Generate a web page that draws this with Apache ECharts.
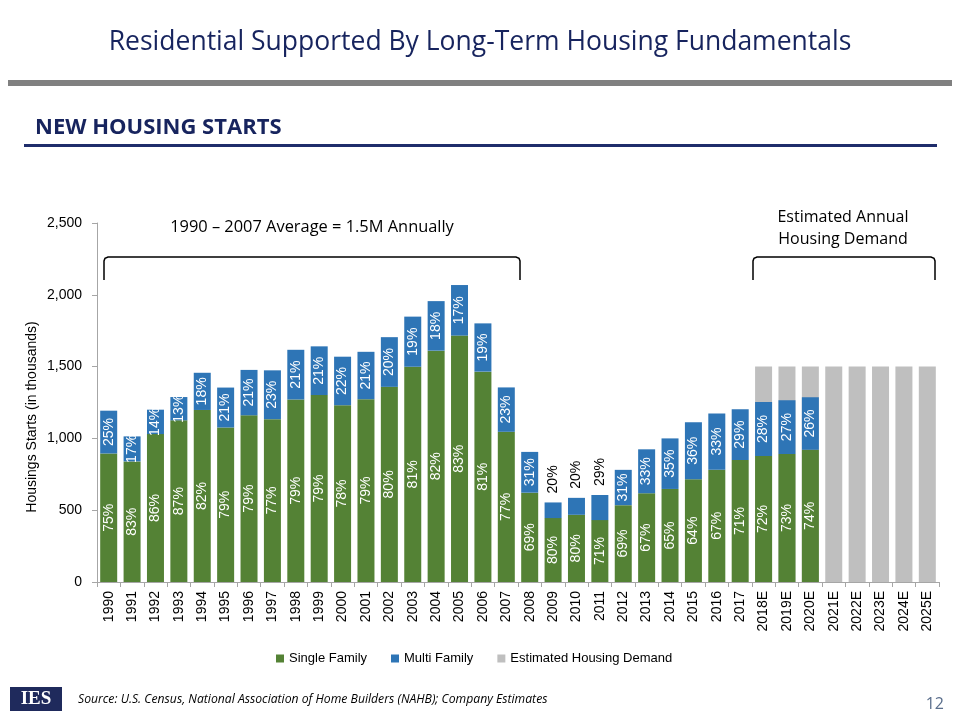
<!DOCTYPE html>
<html>
<head>
<meta charset="utf-8">
<script src="https://cdn.jsdelivr.net/npm/echarts@6/dist/echarts.min.js"></script>
<style>
html,body{margin:0;padding:0;background:#fff;}
#chart{width:960px;height:720px;}
</style>
</head>
<body>
<div id="chart"></div>
<script>
// ---- data ----
const years = ['1990','1991','1992','1993','1994','1995','1996','1997','1998','1999',
  '2000','2001','2002','2003','2004','2005','2006','2007','2008','2009','2010','2011',
  '2012','2013','2014','2015','2016','2017','2018E','2019E','2020E','2021E','2022E',
  '2023E','2024E','2025E'];
const singleFamily = [895,840,1030,1126,1198,1076,1161,1134,1271,1302,1231,1273,1359,1499,
  1611,1716,1465,1046,622,445,468,431,535,618,648,715,782,849,877,891,921];
const multiFamily = [298,174,170,162,259,278,316,340,346,339,338,330,346,349,345,352,336,
  309,284,109,118,175,246,306,352,397,392,354,376,375,365];
const estimatedDemand = [null,null,null,null,null,null,null,null,null,null,null,null,null,
  null,null,null,null,null,null,null,null,null,null,null,null,null,null,null,
  1500,1500,1500,1500,1500,1500,1500,1500];
const singlePct = ['75%','83%','86%','87%','82%','79%','79%','77%','79%','79%','78%','79%',
  '80%','81%','82%','83%','81%','77%','69%','80%','80%','71%','69%','67%','65%','64%','67%',
  '71%','72%','73%','74%'];
const multiPct = ['25%','17%','14%','13%','18%','21%','21%','23%','21%','21%','22%','21%',
  '20%','19%','18%','17%','19%','23%','31%','20%','20%','29%','31%','33%','35%','36%','33%',
  '29%','28%','27%','26%'];
const outsideLabelYears = ['2009','2010','2011'];
const yTicks = [0,500,1000,1500,2000,2500];

const GREEN = '#548235', BLUE = '#2E75B6', GRAY = '#BFBFBF';
const AX_FONT = 'Liberation Sans, Arial, sans-serif';
const SLIDE_FONT = 'Open Sans, Noto Sans, sans-serif';

const chart = echarts.init(document.getElementById('chart'));

const multiData = multiFamily.map((v, i) => {
  if (outsideLabelYears.indexOf(years[i]) >= 0) {
    return {value: v, label: {position: 'top', color: '#000', align: 'left',
      verticalAlign: 'middle', distance: 9}};
  }
  return v;
});

function bracket(x1, x2, yTop, yBot) {
  return [[x1, yBot], [x1, yTop + 4], [x1 + 1, yTop + 1.2], [x1 + 4, yTop],
          [x2 - 4, yTop], [x2 - 1, yTop + 1.2], [x2, yTop + 4], [x2, yBot]];
}

const option = {
  animation: false,
  backgroundColor: '#fff',
  grid: {left: 97, right: 21, top: 223, bottom: 138, containLabel: false},
  legend: {
    data: ['Single Family','Multi Family','Estimated Housing Demand'],
    left: 271, top: 647, icon: 'rect', itemWidth: 8, itemHeight: 8, itemGap: 24,
    textStyle: {fontFamily: AX_FONT, fontSize: 13, color: '#000'}
  },
  xAxis: {
    type: 'category', data: years,
    axisLine: {lineStyle: {color: '#A6A6A6'}},
    axisTick: {show: true, length: 5, lineStyle: {color: '#A6A6A6'}},
    axisLabel: {rotate: 90, interval: 0, color: '#000', fontFamily: AX_FONT, fontSize: 14, margin: 9}
  },
  yAxis: {
    type: 'value', min: yTicks[0], max: yTicks[yTicks.length-1], interval: 500,
    axisLine: {show: true, lineStyle: {color: '#A6A6A6'}},
    axisTick: {show: true, length: 5, lineStyle: {color: '#A6A6A6'}},
    splitLine: {show: false},
    axisLabel: {color: '#000', fontFamily: AX_FONT, fontSize: 14, margin: 15,
      formatter: v => v.toLocaleString('en-US')}
  },
  series: [
    {
      name: 'Single Family', type: 'bar', stack: 'starts', data: singleFamily,
      barWidth: 17, barGap: '-100%', z: 3,
      itemStyle: {color: GREEN},
      label: {show: true, position: 'inside', rotate: 90, color: '#fff',
        fontFamily: AX_FONT, fontSize: 14,
        formatter: p => singlePct[p.dataIndex]}
    },
    {
      name: 'Multi Family', type: 'bar', stack: 'starts', data: multiData,
      barWidth: 17, barGap: '-100%', z: 3,
      itemStyle: {color: BLUE},
      label: {show: true, position: 'inside', rotate: 90, color: '#fff',
        fontFamily: AX_FONT, fontSize: 14,
        formatter: p => multiPct[p.dataIndex]}
    },
    {
      name: 'Estimated Housing Demand', type: 'bar', data: estimatedDemand,
      barWidth: 17, barGap: '-100%', z: 1,
      itemStyle: {color: GRAY}
    }
  ],
  graphic: [
    {type: 'text', x: 480, y: 42, style: {text: 'Residential Supported By Long-Term Housing Fundamentals',
      fill: '#17245E', font: '26.5px ' + SLIDE_FONT, align: 'center', verticalAlign: 'middle'}},
    {type: 'rect', shape: {x: 8, y: 80, width: 944, height: 6}, style: {fill: '#808080'}},
    {type: 'text', x: 35, y: 128, style: {text: 'NEW HOUSING STARTS', fill: '#17245E',
      font: 'bold 22px ' + SLIDE_FONT, verticalAlign: 'middle'}},
    {type: 'rect', shape: {x: 24, y: 144, width: 913, height: 3}, style: {fill: '#1F2D6B'}},
    {type: 'text', x: 32, y: 417, rotation: Math.PI / 2, style: {text: 'Housings Starts (in thousands)',
      fill: '#000', font: '14px ' + AX_FONT, align: 'center', verticalAlign: 'middle'}},
    {type: 'text', x: 312, y: 227, style: {text: '1990 \u2013 2007 Average = 1.5M Annually',
      fill: '#000', font: '16.4px ' + SLIDE_FONT, align: 'center', verticalAlign: 'middle'}},
    {type: 'polyline', shape: {points: bracket(104, 520, 257, 280)},
      style: {stroke: '#000', lineWidth: 1.5, fill: null}},
    {type: 'text', x: 843, y: 217, style: {text: 'Estimated Annual', fill: '#000',
      font: '16px ' + SLIDE_FONT, align: 'center', verticalAlign: 'middle'}},
    {type: 'text', x: 843, y: 239, style: {text: 'Housing Demand', fill: '#000',
      font: '16px ' + SLIDE_FONT, align: 'center', verticalAlign: 'middle'}},
    {type: 'polyline', shape: {points: bracket(753, 935, 257, 280)},
      style: {stroke: '#000', lineWidth: 1.5, fill: null}},
    {type: 'rect', shape: {x: 10, y: 687, width: 52, height: 24}, style: {fill: '#1F2A5C'}},
    {type: 'text', x: 36, y: 699, style: {text: 'IES', fill: '#fff',
      font: 'bold 19px Liberation Serif, DejaVu Serif, serif', align: 'center', verticalAlign: 'middle'}},
    {type: 'text', x: 78, y: 700, style: {text: 'Source: U.S. Census, National Association of Home Builders (NAHB); Company Estimates',
      fill: '#000', font: 'italic 12.2px ' + SLIDE_FONT, verticalAlign: 'middle'}},
    {type: 'text', x: 944, y: 704, style: {text: '12', fill: '#5A6E8C',
      font: '16px ' + SLIDE_FONT, align: 'right', verticalAlign: 'middle'}}
  ]
};
chart.setOption(option);
</script>
</body>
</html>
